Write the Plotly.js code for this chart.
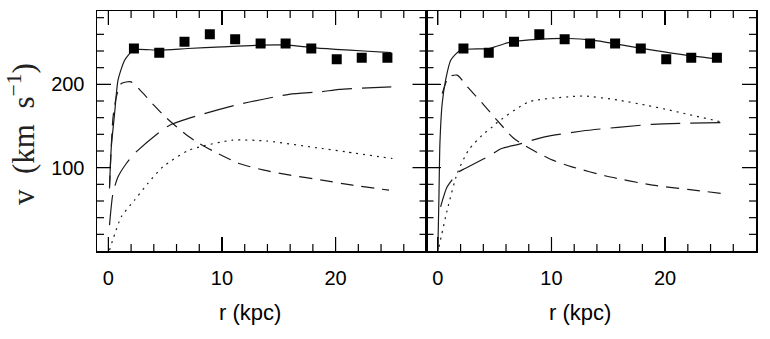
<!DOCTYPE html>
<html><head><meta charset="utf-8">
<script src="https://cdn.plot.ly/plotly-3.0.1.min.js"></script>
</head><body style="margin:0"><div id="c"></div>
<script>
// observed rotation velocities (same in both panels)
const obsR = [2.25, 4.48, 6.7, 8.93, 11.16, 13.4, 15.6, 17.86, 20.1, 22.3, 24.56];
const obsV = [243, 238, 251, 260, 254, 249, 249, 243, 230, 232, 232];

// left panel model components
const totL_r = [0.1, 0.26, 0.55, 0.85, 1.43, 2.1, 2.6, 4.5, 7, 10, 13.4, 15.9, 17.9, 20, 22.5, 24.9];
const totL_v = [77, 125, 165, 205, 229, 240, 242, 241, 243, 245, 247, 247, 244, 242, 240, 238];
const diskL_r = [0.1, 0.4, 0.7, 1.14, 2.0, 3, 4, 5, 6, 7, 8, 9.5, 11.5, 13.7, 16, 18.8, 21.5, 24.7];
const diskL_v = [75, 159, 185, 201, 203, 190, 175, 161, 149, 138, 129, 118, 105, 97, 91, 85, 79, 73];
const haloL_r = [0.1, 0.4, 0.85, 1.58, 2.3, 4.35, 5.4, 8, 11.5, 15.9, 18.7, 20.3, 24.9];
const haloL_v = [31, 69, 89, 105, 117, 141, 151, 163, 176, 188, 191, 194, 197];
const gasL_r = [0.1, 1.14, 2.3, 3.47, 4.8, 7.1, 10.9, 13.9, 18.8, 20.9, 25];
const gasL_v = [1, 41, 61, 81, 101, 121, 133, 132, 123, 119, 111];

// right panel model components
const totR_r = [0, 0.1, 0.18, 0.38, 0.68, 1.13, 2, 4.5, 6.5, 8.9, 11.5, 13.6, 15.9, 18.9, 21.8, 24.9];
const totR_v = [1, 69, 129, 177, 205, 229, 241, 243, 251, 254, 255, 253, 248, 241, 235, 230];
const diskR_r = [0.38, 0.97, 1.7, 2.67, 4, 5.2, 6.7, 8.5, 10.1, 11.8, 14.8, 18.9, 22, 25];
const diskR_v = [189, 209, 211, 196, 176, 157, 135, 120, 109, 101, 90, 79, 74, 69];
const haloR_r = [0.24, 0.82, 1.85, 2.4, 4.64, 5.6, 7.1, 9.4, 12.7, 18.9, 24.9];
const haloR_v = [53, 77, 95, 99, 115, 123, 128, 137, 144, 152, 154];
const gasR_r = [0.1, 0.82, 1.7, 2.7, 3.9, 4.8, 5.1, 8, 11.5, 12.9, 15.9, 18.3, 20.4, 24.9];
const gasR_v = [5, 49, 93, 121, 139, 149, 153, 179, 185, 186, 181, 175, 169, 155];

// axis ticks
const xTicks = [0, 10, 20];
const xMinor = [2, 4, 6, 8, 12, 14, 16, 18, 22, 24, 26];
const yTicks = [100, 200];
const yMinor = [20, 40, 60, 80, 120, 140, 160, 180, 220, 240, 260, 280];

const lc = '#1a1a1a';
function line(x, y, dash, xa, ya) {
  return {x: x, y: y, type: 'scatter', mode: 'lines', xaxis: xa, yaxis: ya,
    line: {color: lc, width: 1.2, dash: dash, shape: 'spline', smoothing: 0.6}, hoverinfo: 'skip'};
}
function pts(xa, ya) {
  return {x: obsR, y: obsV, type: 'scatter', mode: 'markers', xaxis: xa, yaxis: ya,
    marker: {symbol: 'square', size: 10, color: '#000'}};
}
const LD = '30px,10px', MD = '13px,8px', DT = '2px,5px';
const data = [
  line(totL_r, totL_v, 'solid', 'x', 'y'),
  line(diskL_r, diskL_v, MD, 'x', 'y'),
  line(haloL_r, haloL_v, LD, 'x', 'y'),
  line(gasL_r, gasL_v, DT, 'x', 'y'),
  pts('x', 'y'),
  line(totR_r, totR_v, 'solid', 'x2', 'y2'),
  line(diskR_r, diskR_v, MD, 'x2', 'y2'),
  line(haloR_r, haloR_v, LD, 'x2', 'y2'),
  line(gasR_r, gasR_v, DT, 'x2', 'y2'),
  pts('x2', 'y2')
];

// plot area size in px (for tick lengths expressed as domain fractions)
const PW = 329.5, PH = 240, MAJ = 14, MIN = 7;
const shapes = [];
function tickShapes(xa, ya) {
  const tl = {color: '#000', width: 1.2};
  const xs = xTicks.map(v => [v, MAJ]).concat(xMinor.map(v => [v, MIN]));
  xs.forEach(([v, L]) => {
    shapes.push({type: 'line', xref: xa, yref: ya + ' domain', x0: v, x1: v, y0: 0, y1: L / PH, line: tl, layer: 'above'});
    shapes.push({type: 'line', xref: xa, yref: ya + ' domain', x0: v, x1: v, y0: 1, y1: 1 - L / PH, line: tl, layer: 'above'});
  });
  const ys = yTicks.map(v => [v, MAJ]).concat(yMinor.map(v => [v, MIN]));
  ys.forEach(([v, L]) => {
    shapes.push({type: 'line', xref: xa + ' domain', yref: ya, y0: v, y1: v, x0: 0, x1: L / PW, line: tl, layer: 'above'});
    shapes.push({type: 'line', xref: xa + ' domain', yref: ya, y0: v, y1: v, x0: 1, x1: 1 - L / PW, line: tl, layer: 'above'});
  });
}
tickShapes('x', 'y');
tickShapes('x2', 'y2');

const tf = {family: 'Liberation Sans, Arial, sans-serif', size: 20, color: '#000'};
const base = {ticks: 'inside', ticklen: 14, tickwidth: 1.2, tickcolor: '#000', mirror: 'ticks', showline: true,
  linecolor: '#000', linewidth: 1.5, showgrid: false, zeroline: false, tickfont: tf};
const layout = {
  width: 770, height: 339, showlegend: false,
  paper_bgcolor: '#fff', plot_bgcolor: '#fff',
  margin: {l: 97, r: 14, t: 11, b: 88},
  xaxis: Object.assign({}, base, {domain: [0, 0.5], anchor: 'y', range: [-1, 28], tickvals: xTicks, ticklabelstandoff: 8}),
  yaxis: Object.assign({}, base, {anchor: 'x', range: [0, 288], tickvals: yTicks, ticklabelstandoff: 7}),
  xaxis2: Object.assign({}, base, {domain: [0.5, 1], anchor: 'y2', range: [-1, 28], tickvals: xTicks, ticklabelstandoff: 8}),
  yaxis2: Object.assign({}, base, {anchor: 'x2', range: [0, 288], tickvals: yTicks, showticklabels: false}),
  shapes: shapes,
  annotations: [
    {text: 'r (kpc)', xref: 'paper', yref: 'paper', x: (250 - 97) / 659, y: -(312 - 251) / 240,
     xanchor: 'center', yanchor: 'middle', showarrow: false, font: {family: 'Liberation Sans, Arial, sans-serif', size: 22, color: '#000'}},
    {text: 'r (kpc)', xref: 'paper', yref: 'paper', x: (580 - 97) / 659, y: -(312 - 251) / 240,
     xanchor: 'center', yanchor: 'middle', showarrow: false, font: {family: 'Liberation Sans, Arial, sans-serif', size: 22, color: '#000'}},
    {text: 'v  (km  s<sup>−1</sup>)', xref: 'paper', yref: 'paper', x: -(97 - 21) / 659, y: (251 - 134) / 240,
     xanchor: 'center', yanchor: 'middle', textangle: -90, showarrow: false,
     font: {family: 'Liberation Serif, DejaVu Serif, serif', size: 31, color: '#222'}}
  ]
};
Plotly.newPlot('c', data, layout, {staticPlot: true});
</script></body></html>
